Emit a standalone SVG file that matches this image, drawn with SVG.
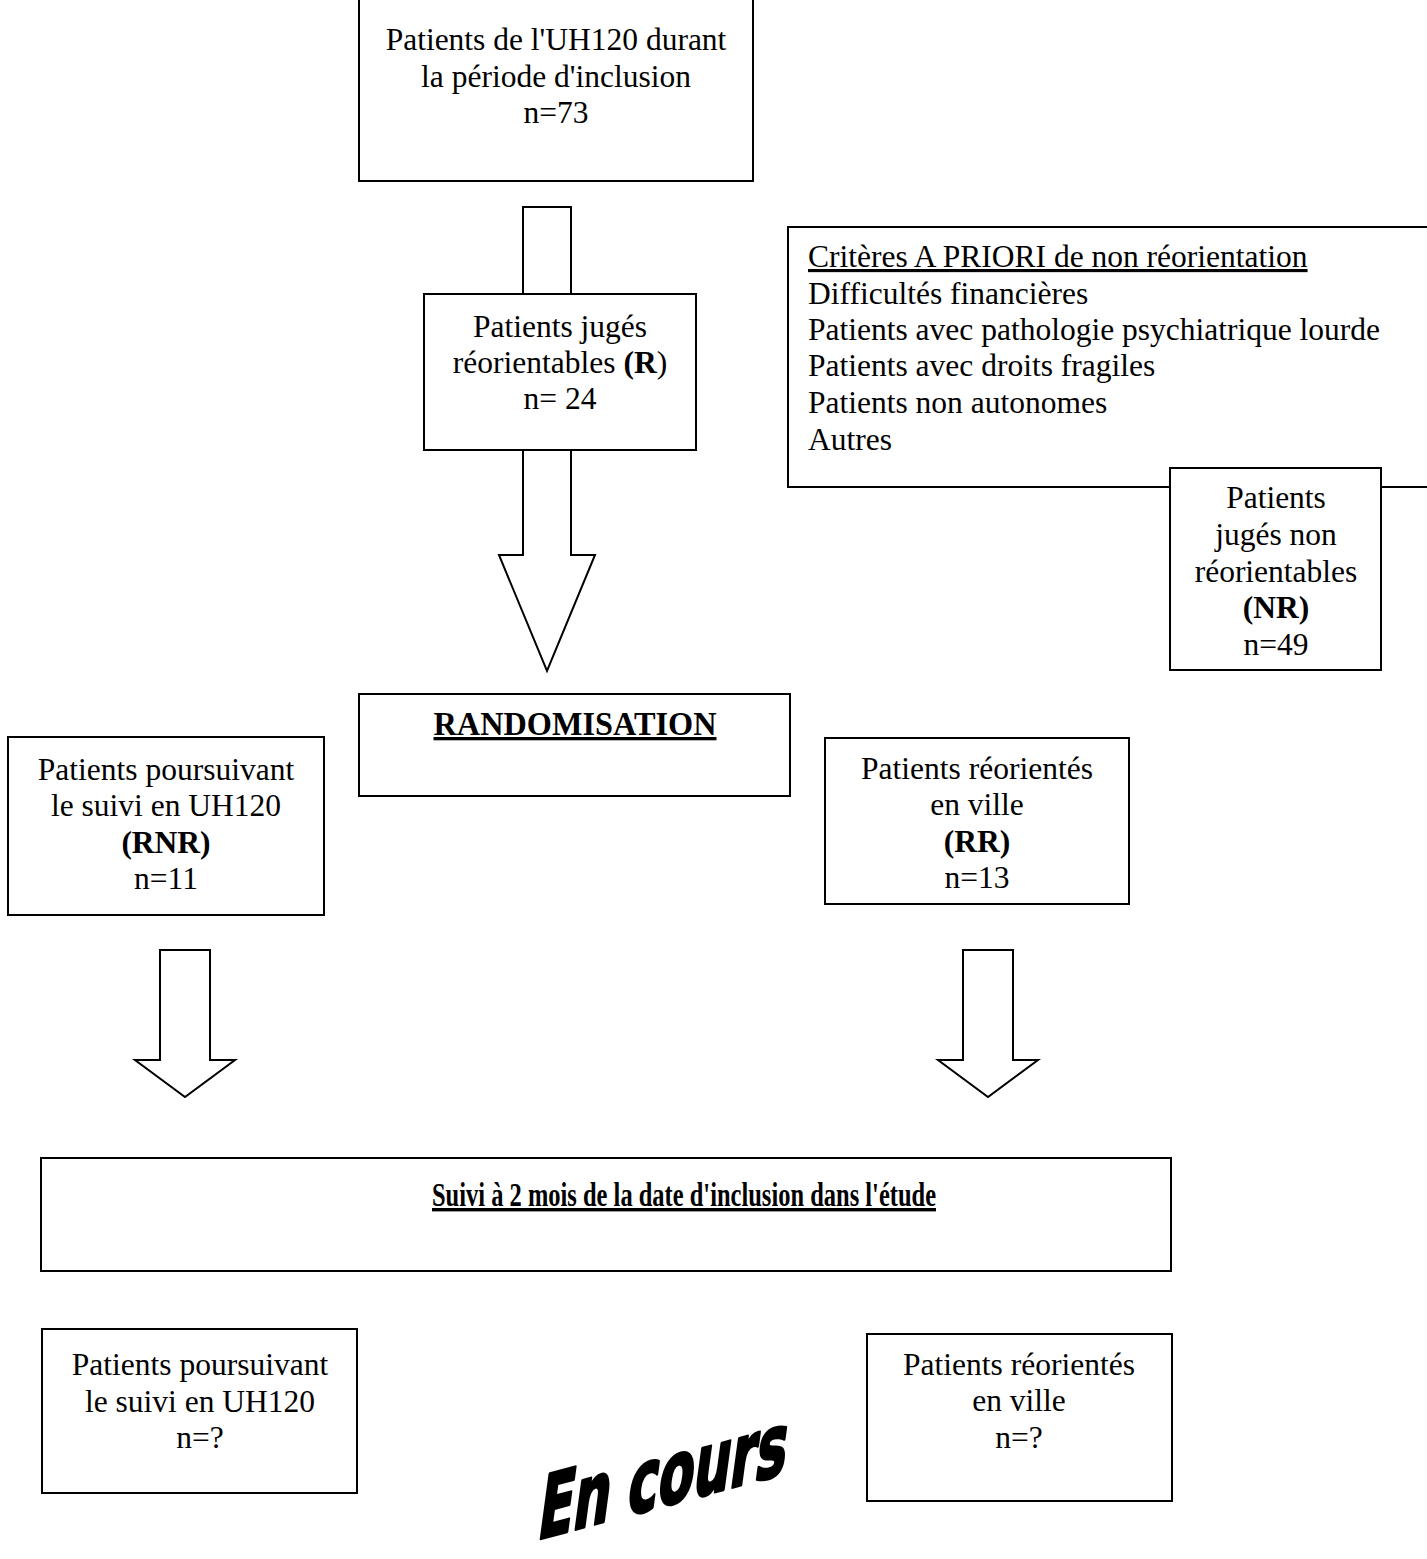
<svg xmlns="http://www.w3.org/2000/svg" width="1427" height="1559" viewBox="0 0 1427 1559">
<style>
.box{fill:#fff;stroke:#000;stroke-width:2}
.arr{fill:#fff;stroke:#000;stroke-width:2;stroke-linejoin:miter}
text{font-family:"Liberation Serif","Times New Roman",serif;font-size:31.5px;fill:#000}
.c{text-anchor:middle}
.b{font-weight:bold}
.u{text-decoration:underline}
.wa{font-family:"DejaVu Sans Condensed","DejaVu Sans","Liberation Sans",sans-serif;font-weight:bold;font-size:86px;stroke:#000;stroke-width:3;stroke-linejoin:round}
</style>
<rect width="1427" height="1559" fill="#fff"/>
<g id="connectors">
  <polygon class="arr" points="523,207 571,207 571,555 595,555 547,671 499,555 523,555"/>
  <polygon class="arr" points="160,950 210,950 210,1060 235,1060 185,1097 135,1060 160,1060"/>
  <polygon class="arr" points="963,950 1013,950 1013,1060 1038,1060 988,1097 938,1060 963,1060"/>
</g>
<g id="inclusion">
  <rect class="box" x="359" y="-2" width="394" height="183"/>
  <text class="c" x="556" y="50">Patients de l'UH120 durant</text>
  <text class="c" x="556" y="87">la période d'inclusion</text>
  <text class="c" x="556" y="123">n=73</text>
</g>
<g id="reorientables">
  <rect class="box" x="424" y="294" width="272" height="156"/>
  <text class="c" x="560" y="337">Patients jugés</text>
  <text class="c" x="560" y="373">réorientables <tspan class="b">(R</tspan>)</text>
  <text class="c" x="560" y="409">n= 24</text>
</g>
<g id="criteres">
  <rect class="box" x="788" y="227" width="660" height="260"/>
  <text x="808" y="267" class="u">Critères A PRIORI de non réorientation</text>
  <text x="808" y="304">Difficultés financières</text>
  <text x="808" y="340">Patients avec pathologie psychiatrique lourde</text>
  <text x="808" y="376">Patients avec droits fragiles</text>
  <text x="808" y="413">Patients non autonomes</text>
  <text x="808" y="450">Autres</text>
</g>
<g id="non-reorientables">
  <rect class="box" x="1170" y="468" width="211" height="202"/>
  <text class="c" x="1276" y="508">Patients</text>
  <text class="c" x="1276" y="545">jugés non</text>
  <text class="c" x="1276" y="582">réorientables</text>
  <text class="c b" x="1276" y="618">(NR)</text>
  <text class="c" x="1276" y="655">n=49</text>
</g>
<g id="randomisation">
  <rect class="box" x="359" y="694" width="431" height="102"/>
  <text class="c b u" x="575" y="735" textLength="283" lengthAdjust="spacingAndGlyphs" style="font-size:33px">RANDOMISATION</text>
</g>
<g id="rnr">
  <rect class="box" x="8" y="737" width="316" height="178"/>
  <text class="c" x="166" y="780">Patients poursuivant</text>
  <text class="c" x="166" y="816">le suivi en UH120</text>
  <text class="c b" x="166" y="853">(RNR)</text>
  <text class="c" x="166" y="889">n=11</text>
</g>
<g id="rr">
  <rect class="box" x="825" y="738" width="304" height="166"/>
  <text class="c" x="977" y="779">Patients réorientés</text>
  <text class="c" x="977" y="815">en ville</text>
  <text class="c b" x="977" y="852">(RR)</text>
  <text class="c" x="977" y="888">n=13</text>
</g>
<g id="suivi">
  <rect class="box" x="41" y="1158" width="1130" height="113"/>
  <text class="c b u" x="684" y="1206" textLength="504" lengthAdjust="spacingAndGlyphs" style="font-size:34px">Suivi à 2 mois de la date d'inclusion dans l'étude</text>
</g>
<g id="suivi-uh120">
  <rect class="box" x="42" y="1329" width="315" height="164"/>
  <text class="c" x="200" y="1375">Patients poursuivant</text>
  <text class="c" x="200" y="1412">le suivi en UH120</text>
  <text class="c" x="200" y="1448">n=?</text>
</g>
<g id="suivi-ville">
  <rect class="box" x="867" y="1334" width="305" height="167"/>
  <text class="c" x="1019" y="1375">Patients réorientés</text>
  <text class="c" x="1019" y="1411">en ville</text>
  <text class="c" x="1019" y="1448">n=?</text>
</g>
<g id="en-cours">
  <text class="wa" transform="translate(536,1540) skewY(-15) skewX(-8)" textLength="248" lengthAdjust="spacingAndGlyphs">En cours</text>
</g>
</svg>
